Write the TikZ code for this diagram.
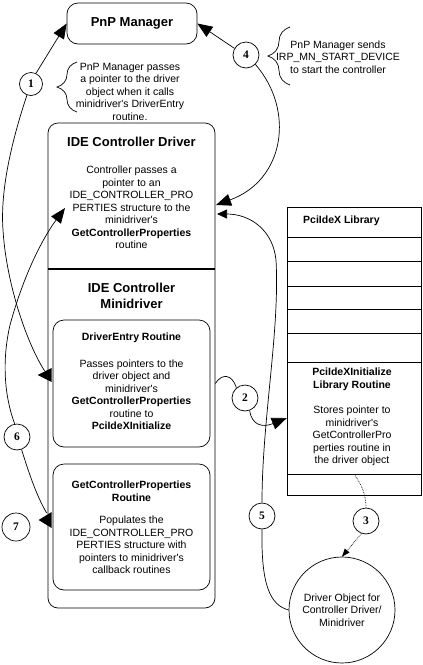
\documentclass[tikz,border=0pt]{standalone}
\usepackage{fontspec}
\setmainfont{Liberation Sans}[Ligatures=TeXOff]
\newfontfamily\numfont{Liberation Serif}
\usetikzlibrary{arrows.meta,decorations.pathreplacing}
\tikzset{
 txt/.style={align=center, inner sep=0pt, font=\fontsize{10.5}{12.5}\selectfont},
 btxt/.style={align=center, inner sep=0pt, font=\fontsize{10.5}{12.5}\selectfont\bfseries},
 ttl/.style={align=center, inner sep=0pt, font=\fontsize{13}{16}\selectfont\bfseries},
 num/.style={draw, line width=0.7pt, circle, inner sep=0pt, minimum size=26pt, font=\numfont\bfseries\fontsize{11.5}{12}\selectfont},
 ln/.style={line width=0.7pt},
 bigtip/.style={-{Triangle[length=15pt,width=12pt]}},
 smalltip/.style={-{Triangle[length=10pt,width=9pt]}},
 rbox/.style={draw, line width=0.7pt, rounded corners=11pt, inner sep=0pt},
 brc/.style={decorate, decoration={brace, amplitude=20pt}, line width=0.7pt},
}
\begin{document}
\begin{tikzpicture}[x=1pt,y=-1pt]
\useasboundingbox[fill=white] (0,0) rectangle (423,665);

% boxes
\node[rbox, ttl, minimum width=130pt, minimum height=41pt] (pnp) at (132,23.5) {PnP Manager};
\node[rbox, rounded corners=10pt, minimum width=167pt, minimum height=485pt] (cd) at (131.5,365.5) {};
\draw[line width=1.8pt] (cd.west |- 0,269) -- (cd.east |- 0,269);
\node[rbox, minimum width=157pt, minimum height=127pt] (de) at (131.5,383.5) {};
\node[rbox, minimum width=157pt, minimum height=126pt] (gcp) at (131.5,527) {};

\node[draw, ln, minimum width=134pt, minimum height=288pt, inner sep=0pt] (lib) at (354,351) {};
\foreach \yy in {237,261,286,309,333,362,474}
  \draw[ln] (lib.west |- 0,\yy) -- (lib.east |- 0,\yy);
\node[minimum width=134pt, minimum height=112pt, inner sep=0pt] (pinit) at (354,418) {};

\node[draw, ln, circle, minimum size=106pt, txt] (drv) at (342,610) {Driver Object for\\Controller Driver/\\Minidriver};

% texts
\node[txt] (n1) at (130,91.5) {PnP Manager passes\\a pointer to the driver\\object when it calls\\minidriver's DriverEntry\\routine.};
\node[txt] (n4) at (338,57) {PnP Manager sends\\IRP\_MN\_START\_DEVICE\\to start the controller};
\node[ttl] (cdt) at (131.5,142) {IDE Controller Driver};
\node[txt] (cdb) at (131.5,207.5) {Controller passes a\\pointer to an\\IDE\_CONTROLLER\_PRO\\PERTIES structure to the\\minidriver's\\\textbf{GetControllerProperties}\\routine};
\node[ttl] (mt) at (131.5,296) {IDE Controller\\Minidriver};
\node[btxt] (det) at (131.5,338) {DriverEntry Routine};
\node[txt] (deb) at (131.5,394.5) {Passes pointers to the\\driver object and\\minidriver's\\\textbf{GetControllerProperties}\\routine to\\\textbf{PciIdeXInitialize}};
\node[btxt] (gcpt) at (131.5,491) {GetControllerProperties\\Routine};
\node[txt] (gcpb) at (131.5,545) {Populates the\\IDE\_CONTROLLER\_PRO\\PERTIES structure with\\pointers to minidriver's\\callback routines};
\node[btxt, anchor=west] (libt) at (303,221) {PciIdeX Library};
\node[btxt] (pit) at (352,379.5) {PciIdeXInitialize\\Library Routine};
\node[txt] (pib) at (352,436) {Stores pointer to\\minidriver's\\GetControllerPro\\perties routine in\\the driver object};

% braces
\draw[brc] (77,112) -- (77,62);
\draw[brc, decoration={brace, amplitude=22pt}] (290,85) -- (290,27);

% numbered circles
\node[num, minimum size=23pt] (c1) at (31,84) {1};
\node[num] (c4) at (246,55) {4};
\node[num] (c2) at (245,398) {2};
\node[num] (c6) at (17,437) {6};
\node[num, minimum size=28pt] (c7) at (16,527) {7};
\node[num] (c5) at (262,516) {5};
\node[num] (c3) at (366,521) {3};

\coordinate (t4) at (216,205);
\coordinate (t5) at (217,214);
\coordinate (t6) at (65,208);

% connectors
\draw[ln, bigtip] (c1.65) -- (pnp.west);
\draw[ln] (c1.250) .. controls (12,140) and (0,190) .. (3,230) .. controls (6,280) and (25,340) .. ([xshift=-8pt,yshift=12.5pt]de.west);
\fill ([yshift=8.5pt]de.west) ++(-15,0) -- ++(14,-7) -- ++(0,14) -- cycle;

\draw[ln, bigtip] (c6.100) .. controls (4,395) and (2,360) .. (10,325) .. controls (25,270) and (45,235) .. (t6);
\draw[ln] (c6.-70) .. controls (28,470) and (36,495) .. ([xshift=-6pt,yshift=14pt]gcp.west);
\fill ([yshift=7pt]gcp.west) ++(-14,0) -- ++(13,-8) -- ++(0,16) -- cycle;

\draw[ln, bigtip] (c4.150) -- (pnp.east);
\draw[ln, bigtip] (c4.-45) .. controls (295,110) and (285,180) .. (t4);

\draw[ln, smalltip] (c5.north) .. controls (262,420) and (280,330) .. (276,260) .. controls (273,230) and (250,214) .. (t5);
\draw[ln] (c5.south) .. controls (261,585) and (270,605) .. (drv.west);

\draw[ln] (cd.east |- de.east) .. controls (222,373) and (232,374) .. (c2.130);
\draw[ln, bigtip] (c2.-70) .. controls (252,425) and (262,428) .. (pinit.west);

\draw[ln, densely dotted] (pinit.south) .. controls (362,485) and (366,495) .. (c3.north);
\draw[ln, densely dotted, -{Triangle[length=8pt,width=6pt]}] (c3.250) -- (drv.north);
\end{tikzpicture}
\end{document}
